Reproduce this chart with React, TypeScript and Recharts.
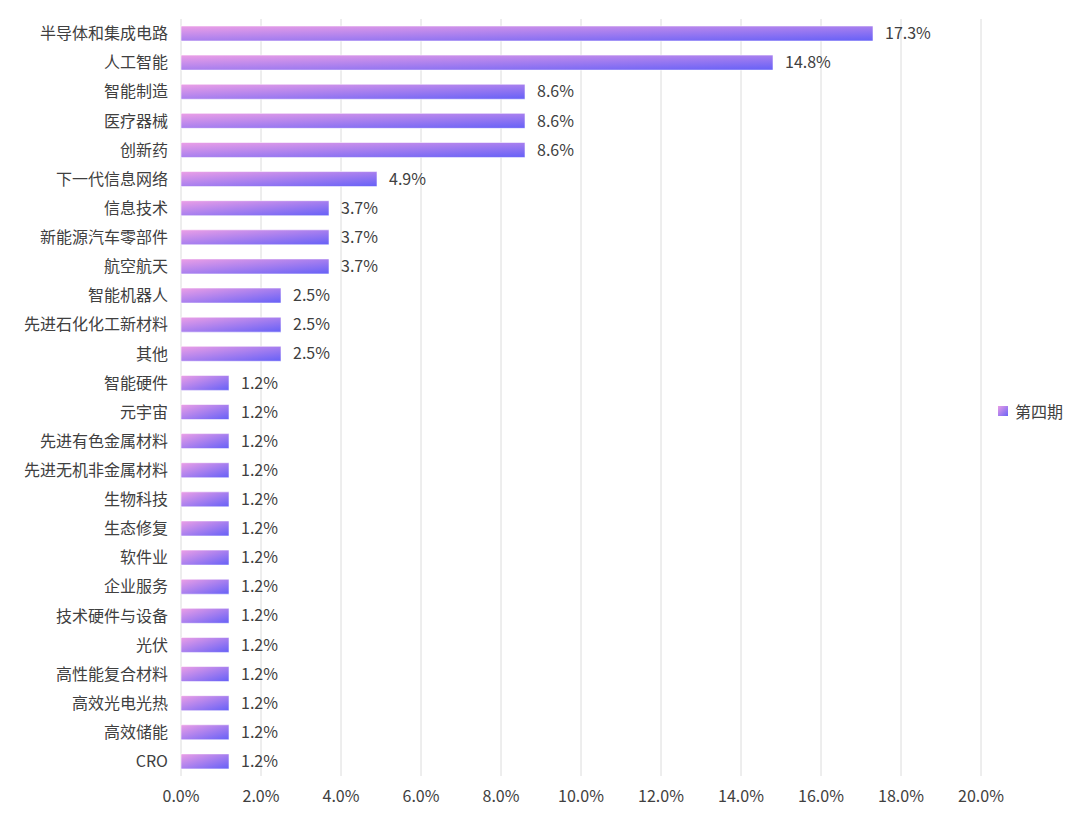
import { BarChart, Bar, XAxis, YAxis, CartesianGrid, LabelList } from 'recharts'

const categories = [
  '半导体和集成电路', '人工智能', '智能制造', '医疗器械', '创新药', '下一代信息网络',
  '信息技术', '新能源汽车零部件', '航空航天', '智能机器人', '先进石化化工新材料', '其他',
  '智能硬件', '元宇宙', '先进有色金属材料', '先进无机非金属材料', '生物科技', '生态修复',
  '软件业', '企业服务', '技术硬件与设备', '光伏', '高性能复合材料', '高效光电光热',
  '高效储能', 'CRO',
];
const values = [
  17.3, 14.8, 8.6, 8.6, 8.6, 4.9,
  3.7, 3.7, 3.7, 2.5, 2.5, 2.5,
  1.2, 1.2, 1.2, 1.2, 1.2, 1.2,
  1.2, 1.2, 1.2, 1.2, 1.2, 1.2,
  1.2, 1.2,
];
const xTicks = [0, 2, 4, 6, 8, 10, 12, 14, 16, 18, 20];
const seriesName = '第四期';

const data = categories.map((name, i) => ({ name, value: values[i] }));

const FONT = '"Noto Sans CJK SC", "Microsoft YaHei", sans-serif';
const TEXT = '#404040';

const App = () => (
  <div style={{ position: 'absolute', left: 0, top: 0, width: 1080, height: 824, background: '#fff', fontFamily: FONT }}>
    <BarChart
      width={1080}
      height={824}
      data={data}
      layout="vertical"
      margin={{ top: 19, right: 99, left: 0, bottom: 18 }}
    >
      <defs>
        <linearGradient id="barGrad" x1="0" y1="0" x2="1" y2="1">
          <stop offset="0%" stopColor="#ec9fe6" />
          <stop offset="100%" stopColor="#6560f7" />
        </linearGradient>
      </defs>
      <CartesianGrid horizontal={false} stroke="#dcdcdc" />
      <XAxis
        type="number"
        domain={[0, 20]}
        ticks={xTicks}
        tickFormatter={(v: number) => `${v.toFixed(1)}%`}
        axisLine={false}
        tickLine={false}
        tickSize={6}
        tickMargin={9}
        height={30}
        tick={{ fill: TEXT, fontSize: 16, fontFamily: FONT }}
        interval={0}
      />
      <YAxis
        type="category"
        dataKey="name"
        width={181}
        axisLine={false}
        tickLine={false}
        tickSize={6}
        tickMargin={7}
        interval={0}
        tick={{ fill: TEXT, fontSize: 16, fontFamily: FONT }}
      />
      <Bar
        dataKey="value"
        name={seriesName}
        fill="url(#barGrad)"
        stroke="rgba(255,255,255,0.55)"
        strokeWidth={1}
        barSize={15}
        isAnimationActive={false}
      >
        <LabelList
          dataKey="value"
          position="right"
          offset={12}
          formatter={(v: number) => `${v}%`}
          style={{ fill: TEXT, fontSize: 16, fontFamily: FONT }}
        />
      </Bar>
    </BarChart>
    {/* legend */}
    <div style={{
      position: 'absolute', left: 998, top: 400, display: 'flex', alignItems: 'center',
      fontSize: 16, color: TEXT, lineHeight: '22px',
    }}>
      <span style={{
        display: 'inline-block', width: 10, height: 10, marginRight: 7,
        background: 'linear-gradient(135deg, #e99de6, #6b63f6)',
      }} />
      {seriesName}
    </div>
  </div>
);

export default App
